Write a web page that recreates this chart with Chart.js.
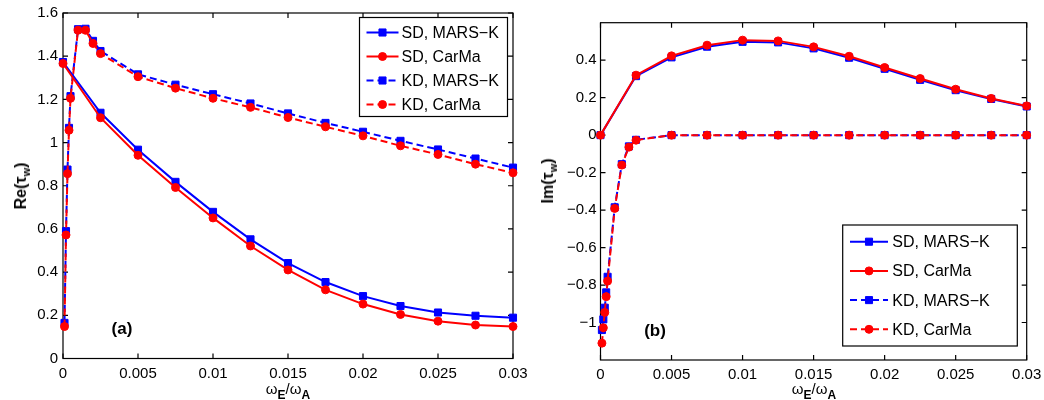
<!DOCTYPE html>
<html>
<head>
<meta charset="utf-8">
<script src="https://cdn.jsdelivr.net/npm/chart.js@4.4.1/dist/chart.umd.min.js"></script>
<style>
  html, body { margin: 0; padding: 0; background: #fff; }
  body { width: 1044px; height: 400px; position: relative; overflow: hidden;
         font-family: "Liberation Sans", Arial, Helvetica, sans-serif; color: #000; }
  .panel { position: absolute; top: 0; height: 400px; }
  .lbl { position: absolute; white-space: nowrap; transform: translate(-50%, -50%); line-height: 1; }
  .ytitle { font-weight: bold; font-size: 16px; transform: translate(-50%, -50%) rotate(-90deg); }
  .xtitle { font-size: 15px; }
  .xtitle b { font-size: 12px; position: relative; top: 5px; }
  .ytitle sub { font-size: 11px; vertical-align: baseline; position: relative; top: 4px; }
  .tag { font-weight: bold; font-size: 17px; }
</style>
</head>
<body>
<div class="panel" style="left:0; width:540px"><canvas id="reChart"></canvas></div>
<div class="panel" style="left:522px; width:522px"><canvas id="imChart"></canvas></div>

<div class="lbl ytitle" style="left:21px; top:186px">Re(τ<sub>w</sub>)</div>
<div class="lbl ytitle" style="left:548px; top:181px">Im(τ<sub>w</sub>)</div>
<div class="lbl xtitle" style="left:288px; top:388px">ω<b>E</b>/ω<b>A</b></div>
<div class="lbl xtitle" style="left:814px; top:388px">ω<b>E</b>/ω<b>A</b></div>
<div class="lbl tag" style="left:122px; top:328px">(a)</div>
<div class="lbl tag" style="left:655px; top:330px">(b)</div>

<script>
// Rotation frequency grids
const sdOmega = [0, 0.0025, 0.005, 0.0075, 0.01, 0.0125, 0.015, 0.0175, 0.02, 0.0225, 0.025, 0.0275, 0.03];
const kdOmega = [0.0001, 0.0002, 0.0003, 0.0004, 0.0005, 0.001, 0.0015, 0.002, 0.0025,
                 0.005, 0.0075, 0.01, 0.0125, 0.015, 0.0175, 0.02, 0.0225, 0.025, 0.0275, 0.03];

// Re(tau_w)
const reSdMarsK = [1.373, 1.138, 0.967, 0.818, 0.679, 0.552, 0.442, 0.354, 0.289, 0.243, 0.213, 0.198, 0.189];
const reSdCarMa = [1.366, 1.115, 0.941, 0.792, 0.651, 0.521, 0.410, 0.318, 0.252, 0.204, 0.173, 0.155, 0.148];
const reKdMarsK = [0.165, 0.590, 0.875, 1.068, 1.215, 1.525, 1.527, 1.471, 1.424,
                   1.316, 1.268, 1.224, 1.181, 1.135, 1.091, 1.050, 1.008, 0.968, 0.926, 0.884];
const reKdCarMa = [0.148, 0.572, 0.856, 1.057, 1.205, 1.520, 1.520, 1.459, 1.412,
                   1.305, 1.252, 1.205, 1.163, 1.116, 1.073, 1.031, 0.985, 0.945, 0.900, 0.860];

// Im(tau_w)
const imSdMarsK = [0, 0.315, 0.415, 0.472, 0.498, 0.495, 0.463, 0.413, 0.354, 0.295, 0.240, 0.193, 0.153];
const imSdCarMa = [0, 0.320, 0.423, 0.480, 0.507, 0.503, 0.471, 0.421, 0.361, 0.302, 0.245, 0.196, 0.156];
const imKdMarsK = [-1.040, -0.983, -0.921, -0.839, -0.756, -0.385, -0.155, -0.060, -0.025,
                   0, 0, 0, 0, 0, 0, 0, 0, 0, 0, 0];
const imKdCarMa = [-1.110, -1.028, -0.946, -0.862, -0.779, -0.391, -0.160, -0.064, -0.027,
                   0, 0, 0, 0, 0, 0, 0, 0, 0, 0, 0];

// Ticks
const omegaTicks = [0, 0.005, 0.01, 0.015, 0.02, 0.025, 0.03];
const omegaTickLabels = ['0', '0.005', '0.01', '0.015', '0.02', '0.025', '0.03'];
const reTicks = [0, 0.2, 0.4, 0.6, 0.8, 1, 1.2, 1.4, 1.6];
const reTickLabels = ['0', '0.2', '0.4', '0.6', '0.8', '1', '1.2', '1.4', '1.6'];
const imTicks = [-1, -0.8, -0.6, -0.4, -0.2, 0, 0.2, 0.4];
const imTickLabels = ['\u22121', '\u22120.8', '\u22120.6', '\u22120.4', '\u22120.2', '0', '0.2', '0.4'];

const seriesNames = ['SD, MARS\u2212K', 'SD, CarMa', 'KD, MARS\u2212K', 'KD, CarMa'];

const BLUE = '#0000ff', RED = '#ff0000';
const FONT = { family: '"Liberation Sans", Arial, sans-serif', size: 15 };

function pairs(xs, ys) { return xs.map((x, i) => ({ x, y: ys[i] })); }

function buildDatasets(sdM, sdC, kdM, kdC) {
  const common = { showLine: true, tension: 0, borderWidth: 2, clip: false, pointBorderWidth: 1, pointHoverRadius: 0 };
  const mars = { borderColor: BLUE, pointStyle: 'rect', pointRadius: 5, pointBackgroundColor: BLUE, pointBorderColor: BLUE, order: 2 };
  const carma = { borderColor: RED, pointStyle: 'circle', pointRadius: 4, pointBackgroundColor: RED, pointBorderColor: RED, order: 1 };
  return [
    { ...common, ...mars, label: seriesNames[0], data: pairs(sdOmega, sdM) },
    { ...common, ...carma, label: seriesNames[1], data: pairs(sdOmega, sdC) },
    { ...common, ...mars, label: seriesNames[2], data: pairs(kdOmega, kdM), borderDash: [7, 4], order: 4 },
    { ...common, ...carma, label: seriesNames[3], data: pairs(kdOmega, kdC), borderDash: [7, 4], order: 3 }
  ];
}

// Axes box with inward tick marks on all four sides
const frame = {
  id: 'frame',
  beforeDatasetsDraw(chart) {
    const { ctx, chartArea: a, scales } = chart;
    const len = 5;
    ctx.save();
    ctx.strokeStyle = '#000';
    ctx.lineWidth = 1.2;
    ctx.strokeRect(a.left, a.top, a.right - a.left, a.bottom - a.top);
    ctx.beginPath();
    scales.x.ticks.forEach(t => {
      const px = scales.x.getPixelForValue(t.value);
      ctx.moveTo(px, a.bottom); ctx.lineTo(px, a.bottom - len);
      ctx.moveTo(px, a.top); ctx.lineTo(px, a.top + len);
    });
    scales.y.ticks.forEach(t => {
      const py = scales.y.getPixelForValue(t.value);
      ctx.moveTo(a.left, py); ctx.lineTo(a.left + len, py);
      ctx.moveTo(a.right, py); ctx.lineTo(a.right - len, py);
    });
    ctx.stroke();
    ctx.restore();
  }
};

// Boxed legend placed inside the plot area
const boxLegend = {
  id: 'boxLegend',
  afterDraw(chart, args, o) {
    const ctx = chart.ctx;
    ctx.save();
    ctx.fillStyle = '#fff';
    ctx.fillRect(o.left, o.top, o.width, o.height);
    ctx.strokeStyle = '#000';
    ctx.lineWidth = 1.2;
    ctx.strokeRect(o.left, o.top, o.width, o.height);
    chart.data.datasets.forEach((ds, i) => {
      const y = o.top + o.firstRow + i * o.rowGap;
      ctx.strokeStyle = ds.borderColor;
      ctx.lineWidth = ds.borderWidth;
      ctx.setLineDash(ds.borderDash || []);
      ctx.beginPath();
      ctx.moveTo(o.left + o.lineStart, y);
      ctx.lineTo(o.left + o.lineEnd, y);
      ctx.stroke();
      ctx.setLineDash([]);
      ctx.fillStyle = ds.pointBackgroundColor;
      ctx.strokeStyle = ds.pointBorderColor;
      ctx.lineWidth = ds.pointBorderWidth;
      Chart.helpers.drawPoint(ctx, { pointStyle: ds.pointStyle, radius: ds.pointRadius, borderWidth: ds.pointBorderWidth, rotation: 0 },
        o.left + (o.lineStart + o.lineEnd) / 2, y);
      ctx.fillStyle = '#000';
      ctx.font = o.font;
      ctx.textBaseline = 'middle';
      ctx.textAlign = 'left';
      ctx.fillText(ds.label, o.left + o.textX, y + 1);
    });
    ctx.restore();
  }
};

function makeChart(id, datasets, cfg) {
  return new Chart(document.getElementById(id), {
    type: 'line',
    data: { datasets },
    plugins: [frame, boxLegend],
    options: {
      responsive: true,
      maintainAspectRatio: false,
      animation: false,
      events: [],
      layout: { padding: cfg.padding },
      plugins: {
        legend: { display: false },
        tooltip: { enabled: false },
        boxLegend: cfg.legend
      },
      scales: {
        x: {
          type: 'linear', min: 0, max: 0.03,
          afterFit(s) { s.height = cfg.xAxisHeight; s.paddingLeft = 0; s.paddingRight = 0; },
          afterBuildTicks(s) { s.ticks = omegaTicks.map(v => ({ value: v })); },
          grid: { display: false, drawTicks: false },
          border: { display: false },
          ticks: { callback: (v, i) => omegaTickLabels[i], font: FONT, color: '#000', padding: 6, maxRotation: 0, autoSkip: false }
        },
        y: {
          type: 'linear', min: cfg.yMin, max: cfg.yMax,
          afterFit(s) { s.width = cfg.yAxisWidth; s.paddingTop = 0; s.paddingBottom = 0; },
          afterBuildTicks(s) { s.ticks = cfg.yTicks.map(v => ({ value: v })); },
          grid: { display: false, drawTicks: false },
          border: { display: false },
          ticks: { callback: (v, i) => cfg.yTickLabels[i], font: FONT, color: '#000', padding: cfg.yPad, autoSkip: false }
        }
      }
    }
  });
}

makeChart('reChart', buildDatasets(reSdMarsK, reSdCarMa, reKdMarsK, reKdCarMa), {
  padding: { top: 13, right: 27, left: 0, bottom: 0 },
  xAxisHeight: 41.5, yAxisWidth: 63, yPad: 5,
  yMin: 0, yMax: 1.6, yTicks: reTicks, yTickLabels: reTickLabels,
  legend: { left: 359.5, top: 17.5, width: 148, height: 99, firstRow: 15, rowGap: 24,
            lineStart: 7, lineEnd: 39, textX: 42, font: '16px "Liberation Sans", Arial, sans-serif' }
});

makeChart('imChart', buildDatasets(imSdMarsK, imSdCarMa, imKdMarsK, imKdCarMa), {
  padding: { top: 22.7, right: 17.3, left: 0, bottom: 0 },
  xAxisHeight: 40, yAxisWidth: 78.5, yPad: 4,
  yMin: -1.2, yMax: 0.6, yTicks: imTicks, yTickLabels: imTickLabels,
  legend: { left: 320.7, top: 225, width: 174.6, height: 121, firstRow: 16.7, rowGap: 29.2,
            lineStart: 7.3, lineEnd: 45.3, textX: 49.6, font: '16px "Liberation Sans", Arial, sans-serif' }
});
</script>
</body>
</html>
